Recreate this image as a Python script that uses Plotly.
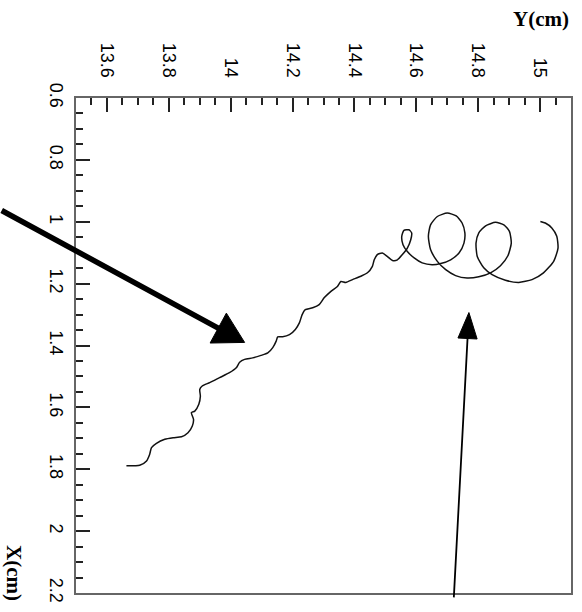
import plotly.graph_objects as go

# Reconstructed particle track, projected on the Y-X plane (cm)
track_y = [13.663, 13.706, 13.728, 13.738, 13.744, 13.760, 13.787, 13.814, 13.841, 13.862,
           13.876, 13.880, 13.873, 13.884, 13.897, 13.902, 13.900, 13.908, 13.932, 13.964,
           13.996, 14.018, 14.029, 14.045, 14.071, 14.098, 14.120, 14.136, 14.147, 14.152,
           14.168, 14.190, 14.209, 14.222, 14.231, 14.241, 14.265, 14.286, 14.302, 14.324,
           14.345, 14.356, 14.372, 14.394, 14.421, 14.442, 14.458,
           14.464, 14.474, 14.490, 14.506, 14.523, 14.539, 14.555, 14.571, 14.582, 14.585,
           14.576, 14.560, 14.553, 14.557, 14.571, 14.593, 14.619, 14.651, 14.679, 14.711,
           14.738, 14.754, 14.757, 14.748, 14.729, 14.700, 14.668, 14.646, 14.639, 14.646,
           14.668, 14.695, 14.727, 14.764, 14.802, 14.840, 14.872, 14.896, 14.907, 14.901,
           14.883, 14.856, 14.824, 14.802, 14.793, 14.797, 14.818, 14.845, 14.888, 14.931,
           14.974, 15.011, 15.044, 15.058, 15.054, 15.038, 15.017, 15.001]
track_x = [1.789, 1.787, 1.773, 1.752, 1.730, 1.716, 1.703, 1.698, 1.695, 1.682,
           1.660, 1.639, 1.617, 1.612, 1.590, 1.564, 1.542, 1.531, 1.520, 1.504,
           1.488, 1.472, 1.454, 1.445, 1.440, 1.432, 1.424, 1.407, 1.386, 1.372,
           1.372, 1.365, 1.348, 1.327, 1.300, 1.284, 1.278, 1.268, 1.246, 1.225,
           1.209, 1.193, 1.196, 1.187, 1.176, 1.165, 1.144,
           1.123, 1.106, 1.101, 1.112, 1.125, 1.123, 1.106, 1.085, 1.058, 1.036,
           1.026, 1.028, 1.047, 1.074, 1.096, 1.117, 1.133, 1.139, 1.135, 1.123,
           1.101, 1.069, 1.036, 1.004, 0.981, 0.972, 0.983, 1.010, 1.047, 1.090,
           1.128, 1.155, 1.174, 1.182, 1.178, 1.165, 1.142, 1.110, 1.069, 1.031,
           1.010, 1.002, 1.013, 1.036, 1.069, 1.112, 1.149, 1.171, 1.189, 1.196,
           1.187, 1.165, 1.128, 1.085, 1.047, 1.020, 1.004, 0.999]

# Pointer arrows: tail and tip (Y, X) in cm
arrow_tail_y = [13.255, 14.721]
arrow_tail_x = [0.961, 2.219]
arrow_tip_y = [14.045, 14.770]
arrow_tip_x = [1.390, 1.2935]

# Axis ticks
y_ticks = [13.6, 13.8, 14.0, 14.2, 14.4, 14.6, 14.8, 15.0]
y_tick_text = ["13.6", "13.8", "14", "14.2", "14.4", "14.6", "14.8", "15"]
x_ticks = [0.6, 0.8, 1.0, 1.2, 1.4, 1.6, 1.8, 2.0, 2.2]
x_tick_text = ["0.6", "0.8", "1", "1.2", "1.4", "1.6", "1.8", "2", "2.2"]

# arrow styling: shaft width (px), head length / half-width (cm)
arrow_width = [5.5, 1.8]
head_len = [0.097, 0.084]
head_half = [0.055, 0.031]

fig = go.Figure()

fig.add_trace(go.Scatter(
    x=track_y, y=track_x, mode="lines",
    line=dict(color="#111111", width=1.5, shape="spline", smoothing=0.6),
    hoverinfo="skip", showlegend=False,
))

for i in range(len(arrow_tip_y)):
    ty, tx = arrow_tail_y[i], arrow_tail_x[i]
    hy, hx = arrow_tip_y[i], arrow_tip_x[i]
    dy, dx = hy - ty, hx - tx
    n = (dy ** 2 + dx ** 2) ** 0.5
    uy, ux = dy / n, dx / n
    by, bx = hy - uy * head_len[i], hx - ux * head_len[i]
    py, px = -ux * head_half[i], uy * head_half[i]
    # filled head
    fig.add_trace(go.Scatter(
        x=[hy, by + py, by - py, hy], y=[hx, bx + px, bx - px, hx],
        mode="lines", fill="toself", fillcolor="black",
        line=dict(color="black", width=1), hoverinfo="skip", showlegend=False,
    ))
    # shaft (may extend beyond the frame)
    fig.add_annotation(
        x=by + uy * 0.01, y=bx + ux * 0.01, ax=ty, ay=tx,
        xref="x", yref="y", axref="x", ayref="y",
        text="", showarrow=True, arrowhead=0, arrowwidth=arrow_width[i],
        arrowcolor="black", standoff=0, startstandoff=0,
    )

tick_font = dict(family="Liberation Sans, Arial, sans-serif", size=18, color="black")

fig.update_xaxes(
    range=[13.5, 15.1], side="top", tickvals=y_ticks, ticktext=y_tick_text,
    tickangle=90, ticks="inside", ticklen=14, tickwidth=1.5, tickcolor="#222222",
    minor=dict(dtick=0.05, tick0=13.5, ticks="inside", ticklen=7, tickwidth=1.5,
               tickcolor="#222222", showgrid=False),
    showline=True, linecolor="#666666", linewidth=2, mirror=True,
    showgrid=False, zeroline=False, tickfont=tick_font, ticklabelstandoff=12,
)
fig.update_yaxes(
    range=[2.2, 0.6], tickvals=x_ticks, ticktext=x_tick_text,
    tickangle=90, ticks="inside", ticklen=14, tickwidth=1.5, tickcolor="#222222",
    minor=dict(dtick=0.05, tick0=0.6, ticks="inside", ticklen=7, tickwidth=1.5,
               tickcolor="#222222", showgrid=False),
    showline=True, linecolor="#666666", linewidth=2, mirror=True,
    showgrid=False, zeroline=False, tickfont=tick_font, ticklabelstandoff=2,
)

title_font = dict(family="Liberation Serif, Times New Roman, serif", size=21, color="black")
fig.add_annotation(text="<b>Y(cm)</b>", xref="paper", yref="paper", x=0.94, y=1.16,
                   xanchor="center", yanchor="middle", showarrow=False, font=title_font)
fig.add_annotation(text="<b>X(cm)</b>", xref="paper", yref="paper", x=-0.125, y=0.04,
                   xanchor="center", yanchor="middle", showarrow=False, font=title_font,
                   textangle=90)

fig.update_layout(
    width=582, height=612,
    margin=dict(l=76, r=9, t=98, b=18),
    paper_bgcolor="white", plot_bgcolor="white",
    showlegend=False,
)

fig.write_html("out.html")
